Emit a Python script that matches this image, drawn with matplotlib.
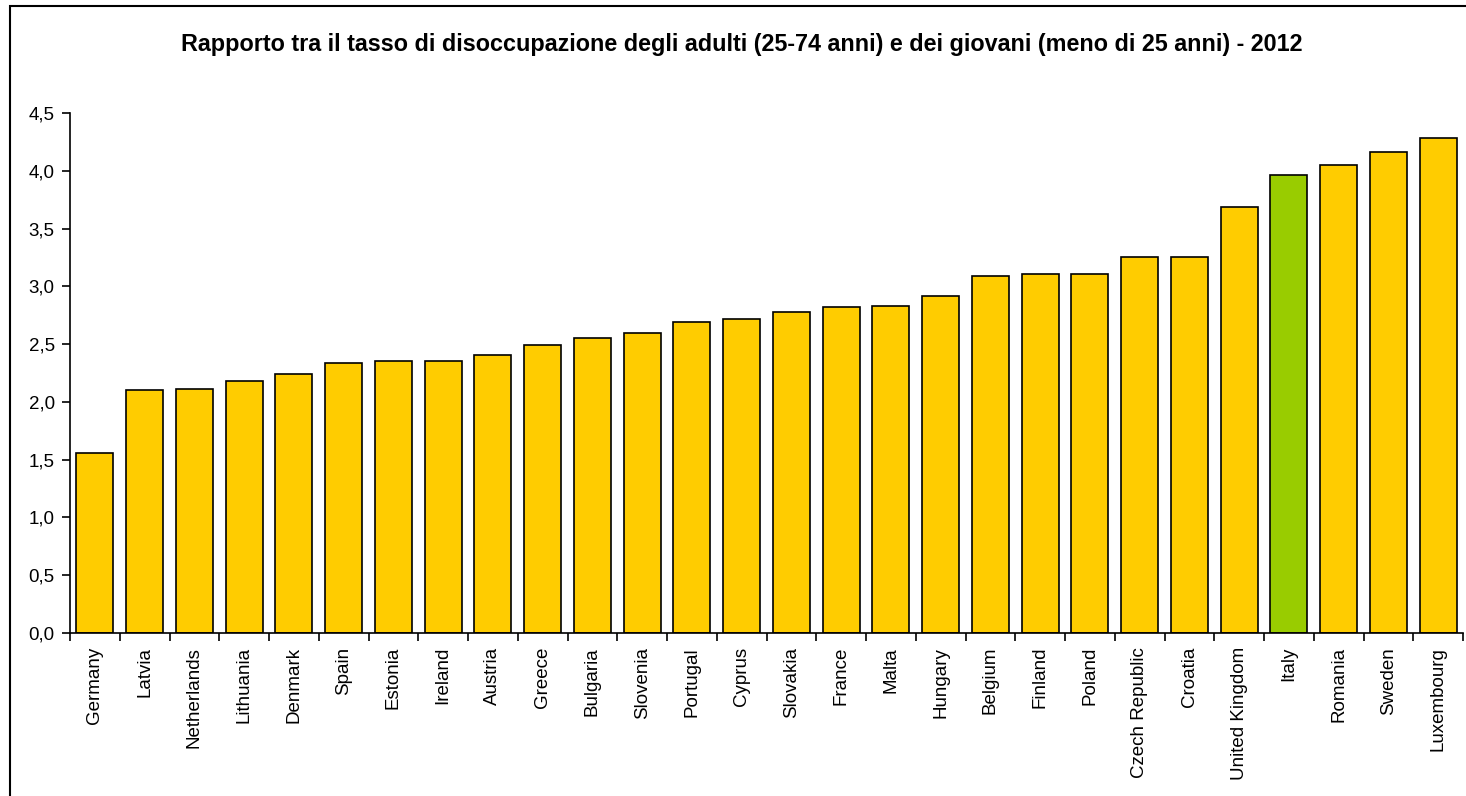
import matplotlib.pyplot as plt
import numpy as np
from matplotlib.patches import Rectangle
from matplotlib.ticker import FuncFormatter

plt.rcParams['font.family'] = ['Liberation Sans', 'DejaVu Sans']

countries = ['Germany', 'Latvia', 'Netherlands', 'Lithuania', 'Denmark', 'Spain',
             'Estonia', 'Ireland', 'Austria', 'Greece', 'Bulgaria', 'Slovenia',
             'Portugal', 'Cyprus', 'Slovakia', 'France', 'Malta', 'Hungary',
             'Belgium', 'Finland', 'Poland', 'Czech Republic', 'Croatia',
             'United Kingdom', 'Italy', 'Romania', 'Sweden', 'Luxembourg']
ratio = [1.56, 2.10, 2.11, 2.18, 2.24, 2.34, 2.35, 2.35, 2.41, 2.49, 2.55, 2.60,
         2.69, 2.72, 2.78, 2.82, 2.83, 2.92, 3.09, 3.11, 3.11, 3.25, 3.25,
         3.69, 3.96, 4.05, 4.16, 4.28]
highlight = 'Italy'

W, H = 1466, 796
fig = plt.figure(figsize=(W / 100, H / 100), dpi=100)
ax = fig.add_axes([70 / W, 1 - 633 / H, (1463 - 70) / W, (633 - 113) / H])

x = np.arange(len(countries))
colors = ['#99CC00' if c == highlight else '#FFCC00' for c in countries]
ax.bar(x, ratio, width=0.74, color=colors, edgecolor='black', linewidth=1.2)

ax.set_xlim(-0.5, len(countries) - 0.5)
ax.set_ylim(0, 4.5)
ax.set_yticks(np.arange(0, 4.51, 0.5))
ax.yaxis.set_major_formatter(FuncFormatter(lambda v, p: f'{v:.1f}'.replace('.', ',')))

# category labels sit under the bars, ticks mark the boundaries between them
ax.set_xticks(np.arange(-0.5, len(countries), 1))
ax.set_xticklabels([])
ax.set_xticks(x, minor=True)
ax.set_xticklabels(countries, minor=True, rotation=90, fontsize=13.5)
ax.tick_params(axis='x', which='minor', length=0, pad=10)
ax.tick_params(axis='x', which='major', length=6, width=1.2, direction='out')
ax.tick_params(axis='y', length=6, width=1.2, direction='out', labelsize=13.5, pad=5)

for side in ['top', 'right']:
    ax.spines[side].set_visible(False)
for side in ['left', 'bottom']:
    ax.spines[side].set_linewidth(1.2)

fig.text(742 / W, 1 - 45 / H,
         'Rapporto tra il tasso di disoccupazione degli adulti (25-74 anni) e dei giovani (meno di 25 anni) - 2012',
         ha='center', va='center', fontsize=16.8, fontweight='bold')

# frame around the whole chart area
fig.patches.append(Rectangle((10 / W, -0.1), 1.2, 1 - 6 / H + 0.1,
                             transform=fig.transFigure, fill=False,
                             edgecolor='black', linewidth=1.5))

fig.savefig('out.png', dpi=100)
